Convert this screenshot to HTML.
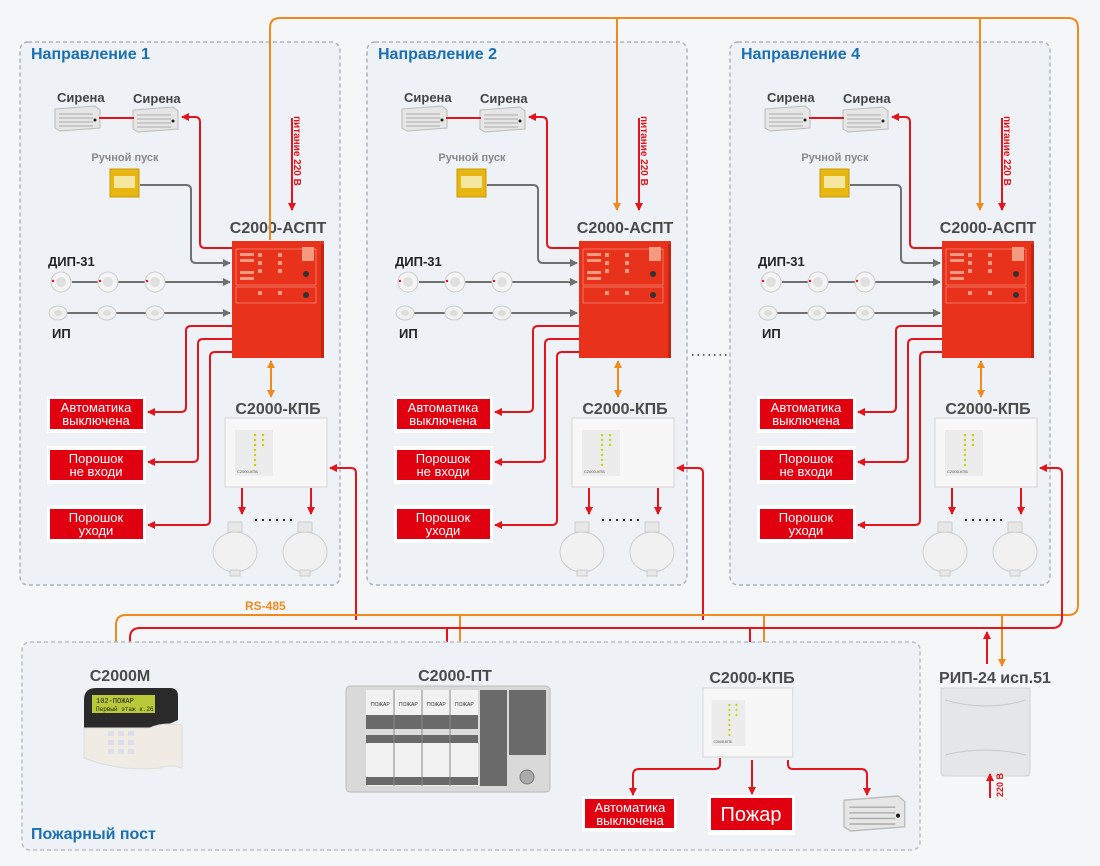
<!DOCTYPE html>
<html><head><meta charset="utf-8">
<style>
html,body{margin:0;padding:0;background:#f4f6f8;}
svg{display:block;font-family:"Liberation Sans",sans-serif;}
.t{font-weight:bold;fill:#4a4a4a;font-size:16px;}
.h{font-weight:bold;fill:#1a6fb5;font-size:16px;}
.lb{fill:#fff;font-size:13px;}
</style></head><body>
<svg width="1100" height="866" viewBox="0 0 1100 866">
<defs>
<marker id="ar" markerWidth="8" markerHeight="8" refX="7" refY="4" orient="auto" markerUnits="userSpaceOnUse"><path d="M0,0 L8,4 L0,8 z" fill="#e3141b"/></marker>
<marker id="ag" markerWidth="8" markerHeight="8" refX="7" refY="4" orient="auto" markerUnits="userSpaceOnUse"><path d="M0,0 L8,4 L0,8 z" fill="#707070"/></marker>
<marker id="ao" markerWidth="8" markerHeight="8" refX="7" refY="4" orient="auto" markerUnits="userSpaceOnUse"><path d="M0,0 L8,4 L0,8 z" fill="#f08a1c"/></marker>
<marker id="aos" markerWidth="8" markerHeight="8" refX="1" refY="4" orient="auto" markerUnits="userSpaceOnUse"><path d="M8,0 L0,4 L8,8 z" fill="#f08a1c"/></marker>
<g id="siren">
<path d="M0,3 L40,0 L45,4 L45,22 L5,25 L0,22 z" fill="#e6e6e6" stroke="#bbb"/>
<path d="M4,8 H38 M4,12 H38 M4,16 H38 M4,20 H38" stroke="#aaa" stroke-width="1"/>
<circle cx="40" cy="14" r="1.5" fill="#222"/>
</g>
<g id="det"><circle r="10" fill="#f4f4f4" stroke="#ccc"/><circle r="5" fill="#e0e0e0"/><circle cx="-8" cy="-1" r="1.2" fill="#e3141b"/></g>
<g id="ip"><ellipse rx="9" ry="7" fill="#f0f0f0" stroke="#ccc"/><ellipse rx="4" ry="3" fill="#ddd"/></g>
<g id="ball">
<rect x="15" y="0" width="14" height="10" fill="#e8e8e8" stroke="#ccc"/>
<ellipse cx="22" cy="30" rx="22" ry="20" fill="#f1f1f1" stroke="#ccc"/>
<rect x="17" y="48" width="10" height="6" fill="#e8e8e8" stroke="#ccc"/>
</g>
<g id="kpb">
<rect x="0" y="0" width="102" height="69" fill="#f7f7f7" stroke="#d4d4d4"/>
<rect x="10" y="12" width="38" height="46" fill="#ececec"/>
<g fill="#c8d400"><circle cx="30" cy="17" r="1.2"/><circle cx="30" cy="22" r="1.2"/><circle cx="30" cy="27" r="1.2"/><circle cx="30" cy="32" r="1.2"/><circle cx="30" cy="37" r="1.2"/><circle cx="30" cy="42" r="1.2"/><circle cx="30" cy="47" r="1.2"/><circle cx="38" cy="17" r="1.2"/><circle cx="38" cy="22" r="1.2"/><circle cx="38" cy="27" r="1.2"/></g>
<text x="12" y="55" font-size="4" fill="#555">С2000-КПБ</text>
</g>
<g id="aspt">
<rect x="0" y="0" width="92" height="117" fill="#e8321c"/>
<rect x="89" y="3" width="3" height="114" fill="#c42412"/>
<rect x="4" y="8" width="80" height="36" fill="none" stroke="#f7a08a" stroke-width="0.6"/>
<rect x="4" y="46" width="80" height="16" fill="none" stroke="#f7a08a" stroke-width="0.6"/>
<g fill="#f49a80"><rect x="8" y="12" width="14" height="3"/><rect x="8" y="18" width="14" height="3"/><rect x="8" y="30" width="14" height="3"/><rect x="8" y="36" width="14" height="3"/><rect x="26" y="12" width="4" height="4"/><rect x="26" y="20" width="4" height="4"/><rect x="26" y="28" width="4" height="4"/><rect x="46" y="12" width="4" height="4"/><rect x="46" y="20" width="4" height="4"/><rect x="46" y="28" width="4" height="4"/><rect x="70" y="6" width="12" height="14"/><rect x="26" y="50" width="4" height="4"/><rect x="46" y="50" width="4" height="4"/></g>
<circle cx="74" cy="33" r="3" fill="#333"/><circle cx="74" cy="54" r="3" fill="#333"/>
</g>
</defs>
<rect width="1100" height="866" fill="#f4f6f8"/>

<!-- blocks -->
<g id="blk">
<rect x="20" y="42" width="320" height="543" rx="8" fill="#eef2f6" stroke="#a9b4c4" stroke-width="1.5" stroke-dasharray="4,3"/>
<text x="57" y="102" font-weight="bold" font-size="13" fill="#444">Сирена</text>
<text x="133" y="103" font-weight="bold" font-size="13" fill="#444">Сирена</text>
<use href="#siren" x="55" y="106"/>
<use href="#siren" x="133" y="107"/>
<path d="M99,118 H134" stroke="#e3141b" stroke-width="2"/>
<path d="M233,248 H205 Q200,248 200,243 V122 Q200,117 195,117 H182" fill="none" stroke="#e3141b" stroke-width="2" marker-end="url(#ar)"/>
<text x="125" y="161" text-anchor="middle" font-size="11" font-weight="bold" fill="#888">Ручной пуск</text>
<rect x="110" y="169" width="29" height="28" fill="#e8b612" stroke="#c89a00"/>
<rect x="114" y="176" width="21" height="12" fill="#f5e7a0"/>
<path d="M140,185 H186 Q191,185 191,190 V258 Q191,263 196,263 H230" fill="none" stroke="#707070" stroke-width="2" marker-end="url(#ag)"/>
<text x="48" y="266" font-size="13" font-weight="bold" fill="#222">ДИП-31</text>
<path d="M72,282 H230" stroke="#707070" stroke-width="2" marker-end="url(#ag)"/>
<use href="#det" x="61" y="282"/><use href="#det" x="108" y="282"/><use href="#det" x="155" y="282"/>
<path d="M66,313 H230" stroke="#707070" stroke-width="2" marker-end="url(#ag)"/>
<use href="#ip" x="58" y="313"/><use href="#ip" x="107" y="313"/><use href="#ip" x="155" y="313"/>
<text x="52" y="338" font-size="13" font-weight="bold" fill="#222">ИП</text>
<text x="278" y="233" text-anchor="middle" class="t">С2000-АСПТ</text>
<use href="#aspt" x="232" y="241"/>
<text transform="translate(294,116) rotate(90)" font-size="10" font-weight="bold" fill="#e3141b">питание 220 В</text>
<path d="M292,118 V210" stroke="#e3141b" stroke-width="2" marker-end="url(#ar)"/>
<path d="M232,326 H191 Q186,326 186,331 V407 Q186,412 181,412 H148" fill="none" stroke="#e3141b" stroke-width="2" marker-end="url(#ar)"/>
<path d="M232,339 H203 Q198,339 198,344 V457 Q198,462 193,462 H148" fill="none" stroke="#e3141b" stroke-width="2" marker-end="url(#ar)"/>
<path d="M232,352 H215 Q210,352 210,357 V520 Q210,525 205,525 H148" fill="none" stroke="#e3141b" stroke-width="2" marker-end="url(#ar)"/>
<rect x="47" y="396" width="99" height="37" fill="#fff"/><rect x="50" y="399" width="93" height="30" fill="#e1000f"/>
<text x="96" y="412" text-anchor="middle" class="lb">Автоматика</text><text x="96" y="425" text-anchor="middle" class="lb">выключена</text>
<rect x="47" y="446" width="99" height="38" fill="#fff"/><rect x="50" y="450" width="93" height="30" fill="#e1000f"/>
<text x="96" y="463" text-anchor="middle" class="lb">Порошок</text><text x="96" y="476" text-anchor="middle" class="lb">не входи</text>
<rect x="47" y="505" width="99" height="38" fill="#fff"/><rect x="50" y="509" width="93" height="30" fill="#e1000f"/>
<text x="96" y="522" text-anchor="middle" class="lb">Порошок</text><text x="96" y="535" text-anchor="middle" class="lb">уходи</text>
<path d="M271,361 V397" stroke="#f08a1c" stroke-width="2" marker-start="url(#aos)" marker-end="url(#ao)"/>
<text x="278" y="414" text-anchor="middle" class="t">С2000-КПБ</text>
<use href="#kpb" x="225" y="418"/>
<path d="M242,488 V514" stroke="#e3141b" stroke-width="2" marker-end="url(#ar)"/>
<path d="M311,488 V514" stroke="#e3141b" stroke-width="2" marker-end="url(#ar)"/>
<path d="M255,520 H295" stroke="#333" stroke-width="2" stroke-dasharray="2,5"/>
<use href="#ball" x="213" y="522"/><use href="#ball" x="283" y="522"/>
</g>
<use href="#blk" x="347" y="0"/>
<use href="#blk" x="710" y="0"/>
<text x="31" y="59" class="h">Направление 1</text>
<text x="378" y="59" class="h">Направление 2</text>
<text x="741" y="59" class="h">Направление 4</text>
<path d="M692,355 H728" stroke="#333" stroke-width="1.5" stroke-dasharray="1.5,4"/>

<!-- KPB feed lines -->
<path d="M356,620 V473 Q356,468 351,468 H330" fill="none" stroke="#e3141b" stroke-width="2" marker-end="url(#ar)"/>
<path d="M703,620 V473 Q703,468 698,468 H677" fill="none" stroke="#e3141b" stroke-width="2" marker-end="url(#ar)"/>

<!-- orange bus -->
<path d="M270,240 V28 Q270,18 280,18 H1068 Q1078,18 1078,28 V605 Q1078,615 1068,615 H126 Q116,615 116,625 V662" fill="none" stroke="#f08a1c" stroke-width="2" marker-end="url(#ao)"/>
<path d="M617,18 V210" stroke="#f08a1c" stroke-width="2" marker-end="url(#ao)"/>
<path d="M980,18 V210" stroke="#f08a1c" stroke-width="2" marker-end="url(#ao)"/>
<path d="M460,615 V665" stroke="#f08a1c" stroke-width="2" marker-end="url(#ao)"/>
<path d="M764,615 V665" stroke="#f08a1c" stroke-width="2" marker-end="url(#ao)"/>
<path d="M1002,615 V666" stroke="#f08a1c" stroke-width="2" marker-end="url(#ao)"/>
<text x="245" y="610" font-size="12" font-weight="bold" fill="#f08a1c">RS-485</text>
<!-- red bus -->
<path d="M1047,468 H1057 Q1062,468 1062,473 V618 Q1062,628 1052,628 H140 Q130,628 130,638 V662" fill="none" stroke="#e3141b" stroke-width="2"/>
<path d="M130,640 V662" stroke="#e3141b" stroke-width="2" marker-end="url(#ar)"/>
<path d="M1055,468 H1040" stroke="#e3141b" stroke-width="2" marker-end="url(#ar)"/>
<path d="M447,628 V665" stroke="#e3141b" stroke-width="2" marker-end="url(#ar)"/>
<path d="M750,628 V665" stroke="#e3141b" stroke-width="2" marker-end="url(#ar)"/>
<path d="M987,664 V632" stroke="#e3141b" stroke-width="2" marker-end="url(#ar)"/>

<!-- bottom -->
<rect x="22" y="642" width="898" height="208" rx="8" fill="#eef2f6" stroke="#b8bfc8" stroke-width="1.5" stroke-dasharray="4,3"/>
<text x="31" y="839" class="h">Пожарный пост</text>
<text x="120" y="681" text-anchor="middle" class="t">С2000М</text>
<path d="M84,700 Q84,688 96,688 H170 Q178,688 178,696 V720 L160,728 H84 z" fill="#2a2a2a"/>
<rect x="92" y="695" width="63" height="18" fill="#b9c93a"/>
<text x="96" y="703" font-size="7" fill="#222" font-family="Liberation Mono">102-ПОЖАР</text>
<text x="96" y="711" font-size="6" fill="#222" font-family="Liberation Mono">Первый этаж к.26</text>
<path d="M84,728 H150 Q162,722 182,725 V768 Q170,764 160,768 Q120,772 84,758 z" fill="#f0ece4" stroke="#ddd"/>
<g fill="#dde"><rect x="108" y="731" width="6" height="5"/><rect x="118" y="731" width="6" height="5"/><rect x="128" y="731" width="6" height="5"/><rect x="108" y="740" width="6" height="5"/><rect x="118" y="740" width="6" height="5"/><rect x="128" y="740" width="6" height="5"/><rect x="108" y="749" width="6" height="5"/><rect x="118" y="749" width="6" height="5"/><rect x="128" y="749" width="6" height="5"/></g>
<text x="455" y="681" text-anchor="middle" class="t">С2000-ПТ</text>
<rect x="346" y="686" width="204" height="106" rx="4" fill="#d9d9d9" stroke="#bbb"/>
<rect x="366" y="690" width="112" height="96" fill="#f2f2f2"/>
<g fill="#6a6a6a"><rect x="366" y="715" width="112" height="14"/><rect x="366" y="729" width="112" height="6" fill="#dcdcdc"/><rect x="366" y="735" width="112" height="8"/><rect x="366" y="777" width="112" height="8"/><rect x="480" y="690" width="27" height="96"/><rect x="509" y="690" width="37" height="65"/></g>
<path d="M394,690 V786 M422,690 V786 M450,690 V786" stroke="#888"/>
<g font-size="5" fill="#333"><text x="371" y="706">ПОЖАР</text><text x="399" y="706">ПОЖАР</text><text x="427" y="706">ПОЖАР</text><text x="455" y="706">ПОЖАР</text></g>
<circle cx="527" cy="777" r="7" fill="#aaa" stroke="#777"/>
<text x="752" y="683" text-anchor="middle" class="t">С2000-КПБ</text>
<use href="#kpb" transform="translate(703,688) scale(0.88,1)"/>
<path d="M720,758 V764 Q720,769 715,769 H639 Q633,769 633,775 V795" fill="none" stroke="#e3141b" stroke-width="2" marker-end="url(#ar)"/>
<path d="M752,760 V794" stroke="#e3141b" stroke-width="2" marker-end="url(#ar)"/>
<path d="M788,760 V764 Q788,769 793,769 H861 Q867,769 867,775 V795" fill="none" stroke="#e3141b" stroke-width="2" marker-end="url(#ar)"/>
<rect x="582" y="796" width="95" height="36" fill="#fff"/><rect x="585" y="799" width="89" height="29" fill="#e1000f"/>
<text x="630" y="812" text-anchor="middle" class="lb">Автоматика</text><text x="630" y="825" text-anchor="middle" class="lb">выключена</text>
<rect x="708" y="795" width="87" height="40" fill="#fff"/><rect x="711" y="798" width="81" height="32" fill="#e1000f"/>
<text x="751" y="821" text-anchor="middle" fill="#fff" font-size="20">Пожар</text>
<use href="#siren" transform="translate(844,796) scale(1.35,1.4)"/>
<text x="995" y="683" text-anchor="middle" class="t">РИП-24 исп.51</text>
<path d="M941,688 H1030 V772 Q1030,776 1026,776 H945 Q941,776 941,772 z" fill="#e4e6e8" stroke="#cfd2d5"/>
<path d="M945,700 Q985,712 1026,700 M945,755 Q985,745 1026,755" stroke="#c6c8ca" fill="none"/>
<path d="M990,798 V774" stroke="#e3141b" stroke-width="2" marker-end="url(#ar)"/>
<text transform="translate(1003,797) rotate(-90)" font-size="9" font-weight="bold" fill="#e3141b">220 В</text>
</svg>
</body></html>
